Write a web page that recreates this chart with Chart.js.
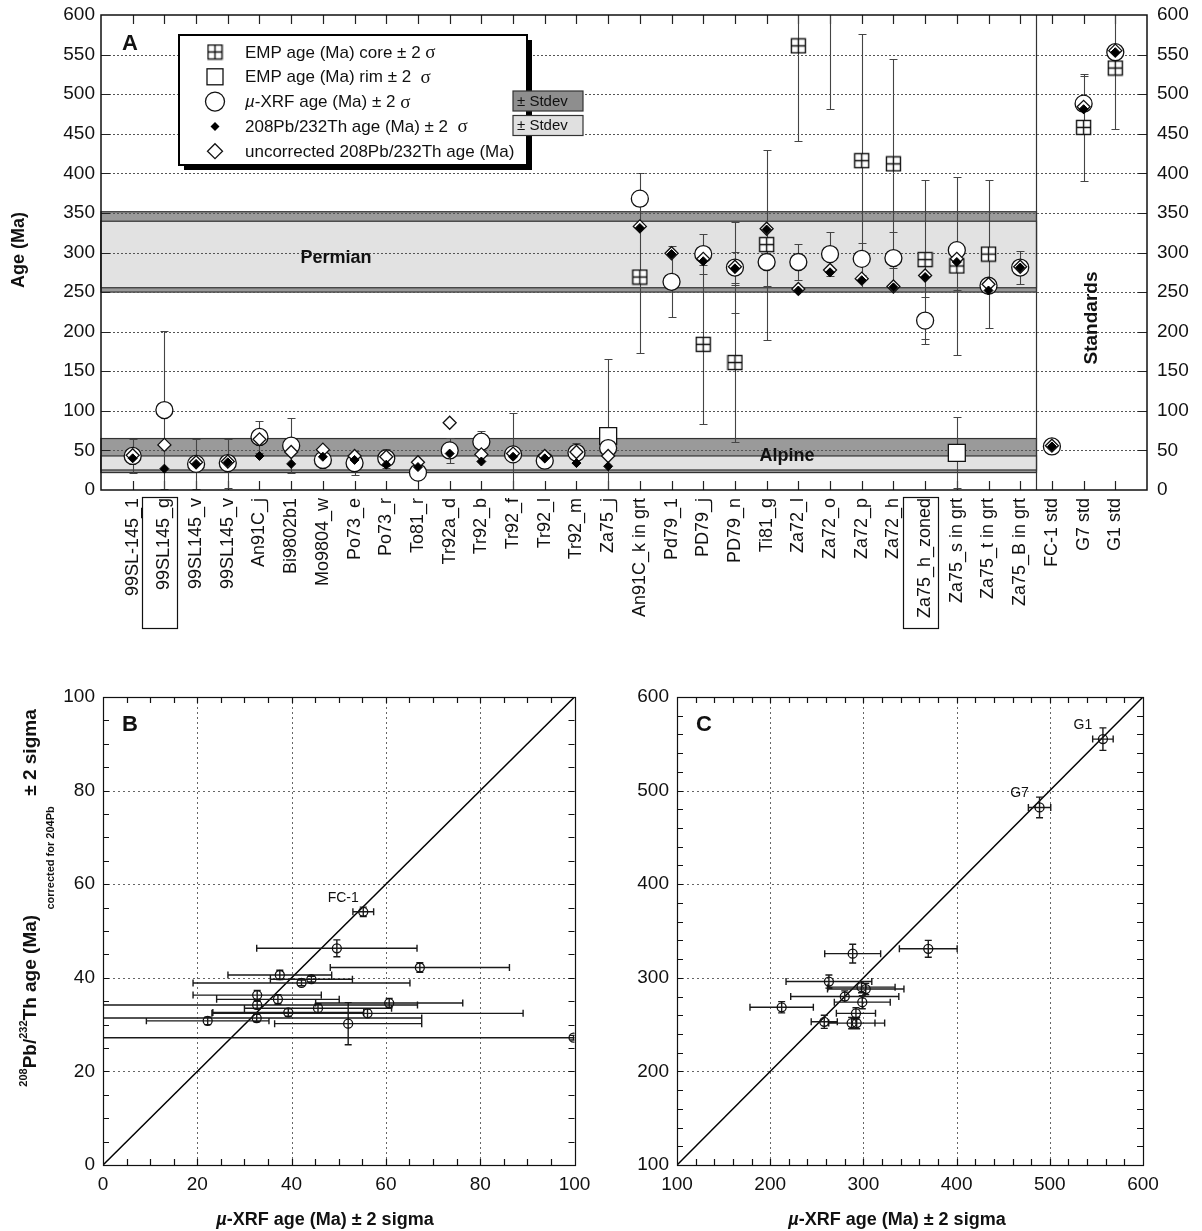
<!DOCTYPE html>
<html>
<head>
<meta charset="utf-8">
<script src="https://cdn.jsdelivr.net/npm/chart.js@4.4.1/dist/chart.umd.min.js"></script>
<style>
  body { margin: 0; background: #fff; width: 1202px; height: 1231px; position: relative; overflow: hidden; }
  .pane { position: absolute; }
</style>
</head>
<body>
<div class="pane" style="left:0;top:0"><canvas id="chartA" width="1202" height="640"></canvas></div>
<div class="pane" style="left:0;top:660px"><canvas id="chartB" width="600" height="571"></canvas></div>
<div class="pane" style="left:600px;top:660px"><canvas id="chartC" width="602" height="571"></canvas></div>
<script>
const N = null;

// ---- panel A: ages per sample ----
const sampleNames = ['99SL-145_1', '99SL145_g', '99SL145_v', '99SL145_v', 'An91C_j', 'Bi9802b1', 'Mo9804_w',
  'Po73_e', 'Po73_r', 'To81_r', 'Tr92a_d', 'Tr92_b', 'Tr92_f', 'Tr92_l', 'Tr92_m', 'Za75_j', 'An91C_k in grt',
  'Pd79_1', 'PD79_j', 'PD79_n', 'Ti81_g', 'Za72_l', 'Za72_o', 'Za72_p', 'Za72_h', 'Za75_h_zoned',
  'Za75_s in grt', 'Za75_t in grt', 'Za75_B in grt', 'FC-1 std', 'G7 std', 'G1 std'];
const boxedSamples = ['99SL145_g', 'Za75_h_zoned'];
const standardsFrom = 29;

const empCore    = [N, N, N, N, N, N, N, N, N, N, N, N, N, N, N, N, 269, N, 184, 161, 310, 561, 700, 416, 412, 291, 283, 298, N, N, 458, 533];
const empCoreErr = [N, N, N, N, N, N, N, N, N, N, N, N, N, N, N, N, 96, N, 100, 100, 120, 120, 219, 160, 132, 100, 112, 94, N, N, 68, 77];
const empRim     = [N, N, N, N, N, N, N, N, N, N, N, N, N, N, N, 68, N, N, N, N, N, N, N, N, N, N, 47, N, N, N, N, N];
const empRimErr  = [N, N, N, N, N, N, N, N, N, N, N, N, N, N, N, 98, N, N, N, N, N, N, N, N, N, N, 45, N, N, N, N, N];
const xrfAge     = [43, 101, 33, 34, 67, 56, 38, 34, 40, 22, 50, 61, 45, 37, 47, 53, 368, 263, 298, 281, 288, 288, 298, 292, 293, 214, 303, 258, 281, 55, 488, 553];
const xrfErr     = [22, 100, 32, 31, 20, 35, N, 15, 12, N, 16, 14, 52, N, 13, N, 32, 45, 25, 57, 30, 23, 28, 20, 33, 30, 50, N, 21, N, 35, N];
const thAge      = [40, 27, 33, 35, 43, 33, 42, 38, 32, 29, 46, 36, 42, 40, 34, 30, 331, 298, 289, 280, 329, 252, 275, 265, 256, 269, 288, 252, 281, 55, 481, 553];
const thErr      = [N, N, N, N, N, N, N, N, N, N, N, N, N, N, N, N, N, N, N, 21, N, N, N, N, N, N, N, N, N, N, N, N];
const uncorrAge  = [44, 57, 35, 36, 64, 48, 51, 43, 42, 35, 85, 45, 46, 43, 48, 43, 333, 299, 292, 282, 330, 254, 278, 267, 257, 271, 292, 260, 282, 56, 484, 555];

const permianRange = [250, 351.5];
const permianStdev = [255.5, 339.5];
const alpineRange = [22, 65];
const alpineStdev = [25.3, 43];

// ---- panel B: FC-1 and young samples ----
const bXrf    = [55.2, 49.6, 67.2, 37.5, 44.2, 42.1, 32.7, 37.1, 32.7, 60.7, 45.6, 39.3, 56.1, 32.6, 22.2, 52.0, 99.8];
const bXrfErr = [2.2, 17, 19, 11, 8.7, 23, 13.6, 13, 34, 15.6, 15.6, 16, 33, 35, 13, 15.6, 100];
const bTh     = [54.1, 46.3, 42.2, 40.6, 39.7, 38.9, 36.3, 35.4, 34.2, 34.6, 33.5, 32.6, 32.4, 31.4, 30.8, 30.2, 27.2];
const bThErr  = [1.0, 1.8, 1.0, 1.0, 0.6, 0.6, 1.0, 1.0, 0.8, 1.0, 1.0, 0.8, 1.0, 0.8, 0.8, 4.5, 0.5];
const bPointNames = {0: 'FC-1'};

// ---- panel C: Permian samples and standards ----
const cXrf    = [369.6, 288.5, 263, 298, 302.5, 280, 298.8, 212.3, 292, 258, 287.4, 292.8, 489, 557];
const cXrfErr = [31, 30, 46, 36, 41, 58, 30, 34, 21, 14, 25, 30, 12, 11];
const cTh     = [331, 325.8, 296, 290, 288, 280, 274, 268.5, 262, 253, 251.6, 251.6, 482, 555];
const cThErr  = [9, 10, 7, 6, 6, 6, 7, 6, 6, 7, 6, 6, 11, 12];
const cPointNames = {12: 'G7', 13: 'G1'};

const FONT = '"Liberation Sans", Arial, Helvetica, sans-serif';
Chart.defaults.font.family = FONT;
Chart.defaults.color = '#111';

const coreIcon = (() => {
  const c = document.createElement('canvas');
  c.width = 17; c.height = 17;
  const g = c.getContext('2d');
  g.fillStyle = '#fff'; g.fillRect(1, 1, 15, 15);
  g.strokeStyle = '#111'; g.lineWidth = 1.4;
  g.strokeRect(1.5, 1.5, 14, 14);
  g.beginPath();
  g.moveTo(8.5, 1.5); g.lineTo(8.5, 15.5);
  g.moveTo(1.5, 8.5); g.lineTo(15.5, 8.5);
  g.stroke();
  return c;
})();

function pts(vals) {
  return vals.map((v, i) => v == null ? null : {x: i, y: v}).filter(p => p);
}

function richWidth(ctx, parts) {
  let w = 0;
  parts.forEach(p => { ctx.font = p.font; w += ctx.measureText(p.t).width; });
  return w;
}

function drawRich(ctx, parts, x, y) {
  let cx = x;
  parts.forEach(p => {
    ctx.font = p.font;
    ctx.fillText(p.t, cx, y + (p.dy || 0));
    cx += ctx.measureText(p.t).width;
  });
}

function diamond(ctx, x, y, r) {
  ctx.beginPath();
  ctx.moveTo(x, y - r); ctx.lineTo(x + r, y); ctx.lineTo(x, y + r); ctx.lineTo(x - r, y); ctx.closePath();
}

function drawSymbol(ctx, kind, x, y) {
  ctx.save();
  ctx.lineWidth = 1.3; ctx.strokeStyle = '#111'; ctx.fillStyle = '#fff';
  if (kind === 'core') ctx.drawImage(coreIcon, x - 8.5, y - 8.5);
  else if (kind === 'rim') { ctx.fillRect(x - 8, y - 8, 16, 16); ctx.strokeRect(x - 8, y - 8, 16, 16); }
  else if (kind === 'circle') { ctx.beginPath(); ctx.arc(x, y, 9.5, 0, Math.PI * 2); ctx.fill(); ctx.stroke(); }
  else if (kind === 'dot') { diamond(ctx, x, y, 4.5); ctx.fillStyle = '#000'; ctx.fill(); }
  else { diamond(ctx, x, y, 7.5); ctx.fill(); ctx.stroke(); }
  ctx.restore();
}

const noGrid = {display: false, drawTicks: false, tickLength: 0};

const panelA = {
  id: 'panelA',
  beforeDatasetsDraw(chart) {
    const {ctx, chartArea: a, scales: {x, y}} = chart;
    const sepX = Math.round(x.getPixelForValue(standardsFrom - 0.5)) + 0.5;
    ctx.save();
    // age bands
    [[permianRange, permianStdev], [alpineRange, alpineStdev]].forEach(([outer, inner]) => {
      [[outer, '#9a9a9a'], [inner, '#e2e2e2']].forEach(([r, col]) => {
        const t = y.getPixelForValue(r[1]), b = y.getPixelForValue(r[0]);
        ctx.fillStyle = col;
        ctx.fillRect(a.left, t, sepX - a.left, b - t);
        ctx.strokeStyle = '#333'; ctx.lineWidth = 1.2;
        ctx.strokeRect(a.left, t, sepX - a.left, b - t);
      });
    });
    // dotted grid
    ctx.strokeStyle = '#555'; ctx.lineWidth = 1; ctx.setLineDash([2, 2]);
    ctx.beginPath();
    for (let v = 50; v < 600; v += 50) {
      const py = Math.round(y.getPixelForValue(v)) + 0.5;
      ctx.moveTo(a.left, py); ctx.lineTo(a.right, py);
    }
    ctx.stroke(); ctx.setLineDash([]);
    // separator of the standards
    ctx.strokeStyle = '#333'; ctx.lineWidth = 1.2;
    ctx.beginPath(); ctx.moveTo(sepX, a.top); ctx.lineTo(sepX, a.bottom); ctx.stroke();
    // ticks
    ctx.strokeStyle = '#222'; ctx.lineWidth = 1.2; ctx.beginPath();
    sampleNames.forEach((_, i) => {
      const px = Math.round(x.getPixelForValue(i)) + 0.5;
      ctx.moveTo(px, a.top); ctx.lineTo(px, a.top + 9);
      ctx.moveTo(px, a.bottom); ctx.lineTo(px, a.bottom - 9);
    });
    for (let v = 50; v < 600; v += 50) {
      const py = Math.round(y.getPixelForValue(v)) + 0.5;
      ctx.moveTo(a.left, py); ctx.lineTo(a.left + 9, py);
      ctx.moveTo(a.right, py); ctx.lineTo(a.right - 9, py);
    }
    ctx.stroke();
    // error bars
    ctx.save();
    ctx.beginPath(); ctx.rect(a.left, a.top, a.right - a.left, a.bottom - a.top); ctx.clip();
    ctx.strokeStyle = '#444'; ctx.lineWidth = 1.1; ctx.beginPath();
    [[empCore, empCoreErr], [empRim, empRimErr], [xrfAge, xrfErr], [thAge, thErr]].forEach(([vals, errs]) => {
      vals.forEach((v, i) => {
        if (v == null || errs[i] == null) return;
        const px = Math.round(x.getPixelForValue(i)) + 0.5;
        const y0 = Math.round(y.getPixelForValue(v - errs[i])) + 0.5;
        const y1 = Math.round(y.getPixelForValue(v + errs[i])) + 0.5;
        ctx.moveTo(px, y0); ctx.lineTo(px, y1);
        ctx.moveTo(px - 4, y0); ctx.lineTo(px + 4, y0);
        ctx.moveTo(px - 4, y1); ctx.lineTo(px + 4, y1);
      });
    });
    ctx.stroke();
    ctx.restore();
    // frame
    ctx.strokeStyle = '#111'; ctx.lineWidth = 1.5;
    ctx.strokeRect(a.left, a.top, a.right - a.left, a.bottom - a.top);
    ctx.restore();
  },
  afterDraw(chart) {
    const {ctx, chartArea: a, scales: {x}} = chart;
    ctx.save();
    ctx.fillStyle = '#111'; ctx.textBaseline = 'alphabetic';
    // panel letter and band names
    ctx.font = 'bold 22px ' + FONT; ctx.fillText('A', 122, 50);
    ctx.font = 'bold 18px ' + FONT; ctx.textAlign = 'center'; ctx.textBaseline = 'middle';
    ctx.fillText('Permian', 336, 258);
    ctx.fillText('Alpine', 787, 456);
    ctx.save(); ctx.translate(1092, 318); ctx.rotate(-Math.PI / 2);
    ctx.font = 'bold 19px ' + FONT; ctx.fillText('Standards', 0, 0); ctx.restore();
    ctx.save(); ctx.translate(19, 250); ctx.rotate(-Math.PI / 2);
    ctx.font = 'bold 18px ' + FONT; ctx.fillText('Age (Ma)', 0, 0); ctx.restore();
    // boxes around two sample names
    ctx.strokeStyle = '#111'; ctx.lineWidth = 1.2;
    boxedSamples.forEach(name => {
      const px = x.getPixelForValue(sampleNames.indexOf(name));
      ctx.strokeRect(Math.round(px - 22) + 0.5, a.bottom + 7.5, 35, 131);
    });
    // legend
    const L = 179, T = 35, W = 348, H = 130;
    ctx.fillStyle = '#000'; ctx.fillRect(L + 5, T + 5, W, H);
    ctx.fillStyle = '#fff'; ctx.fillRect(L, T, W, H);
    ctx.lineWidth = 2; ctx.strokeStyle = '#000'; ctx.strokeRect(L, T, W, H);
    const sans = '17px ' + FONT, serif = '19px "Liberation Serif", serif';
    const rows = [
      ['core', [{t: 'EMP age (Ma) core ± 2 ', font: sans}, {t: 'σ', font: serif}]],
      ['rim', [{t: 'EMP age (Ma) rim ± 2  ', font: sans}, {t: 'σ', font: serif}]],
      ['circle', [{t: 'µ', font: 'italic ' + sans}, {t: '-XRF age (Ma) ± 2 ', font: sans}, {t: 'σ', font: serif}]],
      ['dot', [{t: '208Pb/232Th age (Ma) ± 2  ', font: sans}, {t: 'σ', font: serif}]],
      ['diamond', [{t: 'uncorrected 208Pb/232Th age (Ma)', font: sans}]]
    ];
    ctx.textAlign = 'left'; ctx.textBaseline = 'middle';
    rows.forEach(([kind, parts], i) => {
      const ry = 52 + i * 24.8;
      drawSymbol(ctx, kind, 215, ry);
      ctx.fillStyle = '#111';
      drawRich(ctx, parts, 245, ry + 1);
    });
    // stdev swatches
    [['#8e8e8e', 91], ['#e0e0e0', 115.5]].forEach(([col, ty]) => {
      ctx.fillStyle = col; ctx.fillRect(513, ty, 70, 20);
      ctx.strokeStyle = '#333'; ctx.lineWidth = 1.2; ctx.strokeRect(513, ty, 70, 20);
      ctx.fillStyle = '#111'; ctx.font = '15px ' + FONT; ctx.fillText('± Stdev', 517, ty + 10.5);
    });
    ctx.restore();
  }
};

new Chart(document.getElementById('chartA'), {
  type: 'scatter',
  data: {
    datasets: [
      {data: pts(thAge), pointStyle: 'rectRot', radius: 4.5, backgroundColor: '#000', borderColor: '#000', borderWidth: 1, order: 1},
      {data: pts(uncorrAge), pointStyle: 'rectRot', radius: 6.5, backgroundColor: '#fff', borderColor: '#111', borderWidth: 1.3, order: 2},
      {data: pts(xrfAge), pointStyle: 'circle', radius: 8.5, backgroundColor: '#fff', borderColor: '#111', borderWidth: 1.3, order: 3},
      {data: pts(empRim), pointStyle: 'rect', radius: 12, backgroundColor: '#fff', borderColor: '#111', borderWidth: 1.3, order: 4},
      {data: pts(empCore), pointStyle: coreIcon, radius: 8, order: 5}
    ]
  },
  options: {
    responsive: false,
    animation: false,
    events: [],
    layout: {padding: {top: 15, left: 0, right: 0, bottom: 0}},
    plugins: {legend: {display: false}, tooltip: {enabled: false}},
    scales: {
      x: {
        type: 'linear', min: -1, max: sampleNames.length,
        afterBuildTicks: s => { s.ticks = sampleNames.map((_, i) => ({value: i})); },
        afterFit: s => { s.height = 150; s.paddingLeft = 0; s.paddingRight = 0; },
        ticks: {autoSkip: false, minRotation: 90, maxRotation: 90, padding: 8, font: {size: 18}, color: '#111',
          callback: v => sampleNames[v] ?? ''},
        grid: noGrid, border: {display: false}
      },
      y: {
        min: 0, max: 600,
        afterFit: s => { s.width = 101; s.paddingTop = 0; s.paddingBottom = 0; },
        ticks: {stepSize: 50, padding: 6, font: {size: 19}, color: '#111'},
        grid: noGrid, border: {display: false}
      },
      y2: {
        position: 'right', min: 0, max: 600,
        afterFit: s => { s.width = 55; s.paddingTop = 0; s.paddingBottom = 0; },
        ticks: {stepSize: 50, padding: 10, font: {size: 19}, color: '#111'},
        grid: noGrid, border: {display: false}
      }
    }
  },
  plugins: [panelA]
});

// ---- panels B and C ----
function makePanelPlugin(p) {
  return {
    id: 'panel' + p.letter,
    beforeDatasetsDraw(chart) {
      const {ctx, chartArea: a, scales: {x, y}} = chart;
      ctx.save();
      ctx.strokeStyle = '#666'; ctx.lineWidth = 1; ctx.setLineDash([2, 3]);
      ctx.beginPath();
      for (let v = p.min + p.major; v < p.max - 1e-6; v += p.major) {
        const px = Math.round(x.getPixelForValue(v)) + 0.5, py = Math.round(y.getPixelForValue(v)) + 0.5;
        ctx.moveTo(px, a.top); ctx.lineTo(px, a.bottom);
        ctx.moveTo(a.left, py); ctx.lineTo(a.right, py);
      }
      ctx.stroke(); ctx.setLineDash([]);
      ctx.save();
      ctx.beginPath(); ctx.rect(a.left, a.top, a.right - a.left, a.bottom - a.top); ctx.clip();
      ctx.strokeStyle = '#000'; ctx.lineWidth = 1.5;
      ctx.beginPath();
      ctx.moveTo(x.getPixelForValue(p.min), y.getPixelForValue(p.min));
      ctx.lineTo(x.getPixelForValue(p.max), y.getPixelForValue(p.max));
      ctx.stroke();
      ctx.strokeStyle = '#1a1a1a'; ctx.lineWidth = 1.4; ctx.beginPath();
      p.xs.forEach((xv, i) => {
        const yv = p.ys[i];
        const px = x.getPixelForValue(xv), py = y.getPixelForValue(yv);
        const x0 = x.getPixelForValue(xv - p.xErr[i]), x1 = x.getPixelForValue(xv + p.xErr[i]);
        const y0 = y.getPixelForValue(yv - p.yErr[i]), y1 = y.getPixelForValue(yv + p.yErr[i]);
        ctx.moveTo(x0, py); ctx.lineTo(x1, py);
        ctx.moveTo(x0, py - 3.5); ctx.lineTo(x0, py + 3.5);
        ctx.moveTo(x1, py - 3.5); ctx.lineTo(x1, py + 3.5);
        ctx.moveTo(px, y0); ctx.lineTo(px, y1);
        ctx.moveTo(px - 3.5, y0); ctx.lineTo(px + 3.5, y0);
        ctx.moveTo(px - 3.5, y1); ctx.lineTo(px + 3.5, y1);
      });
      ctx.stroke();
      ctx.restore();
      ctx.strokeStyle = '#111'; ctx.lineWidth = 1.2;
      ctx.strokeRect(Math.round(a.left) + 0.5, Math.round(a.top) + 0.5, Math.round(a.right - a.left), Math.round(a.bottom - a.top));
      ctx.beginPath();
      for (let v = p.min + p.minor; v < p.max - 1e-6; v += p.minor) {
        const px = Math.round(x.getPixelForValue(v)) + 0.5, py = Math.round(y.getPixelForValue(v)) + 0.5;
        ctx.moveTo(px, a.top); ctx.lineTo(px, a.top + 6);
        ctx.moveTo(px, a.bottom); ctx.lineTo(px, a.bottom - 6);
        ctx.moveTo(a.left, py); ctx.lineTo(a.left + 6, py);
        ctx.moveTo(a.right, py); ctx.lineTo(a.right - 6, py);
      }
      ctx.stroke();
      ctx.restore();
    },
    afterDraw(chart) {
      const {ctx, chartArea: a, scales: {x, y}} = chart;
      ctx.save();
      ctx.fillStyle = '#111';
      ctx.font = 'bold 22px ' + FONT; ctx.textBaseline = 'alphabetic'; ctx.textAlign = 'left';
      ctx.fillText(p.letter, a.left + 19, a.top + 34);
      ctx.font = '14px ' + FONT; ctx.textAlign = 'center'; ctx.textBaseline = 'middle';
      Object.entries(p.names).forEach(([i, name]) => {
        ctx.fillText(name, x.getPixelForValue(p.xs[i]) - 20, y.getPixelForValue(p.ys[i]) - 14);
      });
      const bold = 'bold 18px ' + FONT;
      const xTitle = [{t: 'µ', font: 'italic ' + bold}, {t: '-XRF age (Ma) ± 2 sigma', font: bold}];
      ctx.textAlign = 'left'; ctx.textBaseline = 'alphabetic';
      drawRich(ctx, xTitle, p.xTitleX - richWidth(ctx, xTitle) / 2, 565);
      if (p.yTitle) {
        const big = 'bold 19px ' + FONT, small = 'bold 11px ' + FONT;
        const parts = [
          {t: '208', font: small, dy: -9}, {t: 'Pb/', font: big}, {t: '232', font: small, dy: -9},
          {t: 'Th age (Ma) ', font: big}, {t: 'corrected for 204Pb', font: small, dy: 18},
          {t: '  ± 2 sigma', font: big}
        ];
        ctx.save(); ctx.translate(36, 238); ctx.rotate(-Math.PI / 2);
        drawRich(ctx, parts, -richWidth(ctx, parts) / 2, 0);
        ctx.restore();
      }
      ctx.restore();
    }
  };
}

function scatterChart(id, p, area) {
  new Chart(document.getElementById(id), {
    type: 'scatter',
    data: {datasets: [{
      data: p.xs.map((v, i) => ({x: v, y: p.ys[i]})),
      pointStyle: 'circle', radius: 4.5, backgroundColor: 'rgba(0,0,0,0)', borderColor: '#111', borderWidth: 1.3
    }]},
    options: {
      responsive: false, animation: false, events: [],
      layout: {padding: {top: area.top, left: 0, right: area.right, bottom: 0}},
      plugins: {legend: {display: false}, tooltip: {enabled: false}},
      scales: {
        x: {type: 'linear', min: p.min, max: p.max,
          afterFit: s => { s.height = area.xh; s.paddingLeft = 0; s.paddingRight = 0; },
          ticks: {stepSize: p.major, padding: 8, font: {size: 19}, color: '#111'},
          grid: noGrid, border: {display: false}},
        y: {min: p.min, max: p.max,
          afterFit: s => { s.width = area.yw; s.paddingTop = 0; s.paddingBottom = 0; },
          ticks: {stepSize: p.major, padding: 8, font: {size: 19}, color: '#111'},
          grid: noGrid, border: {display: false}}
      }
    },
    plugins: [makePanelPlugin(p)]
  });
}

scatterChart('chartB', {letter: 'B', min: 0, max: 100, major: 20, minor: 5, xs: bXrf, xErr: bXrfErr, ys: bTh, yErr: bThErr,
  names: bPointNames, xTitleX: 325, yTitle: true}, {top: 37, right: 25.5, xh: 66, yw: 103});
scatterChart('chartC', {letter: 'C', min: 100, max: 600, major: 100, minor: 20, xs: cXrf, xErr: cXrfErr, ys: cTh, yErr: cThErr,
  names: cPointNames, xTitleX: 297, yTitle: false}, {top: 37, right: 59, xh: 66, yw: 77});
</script>
</body>
</html>
